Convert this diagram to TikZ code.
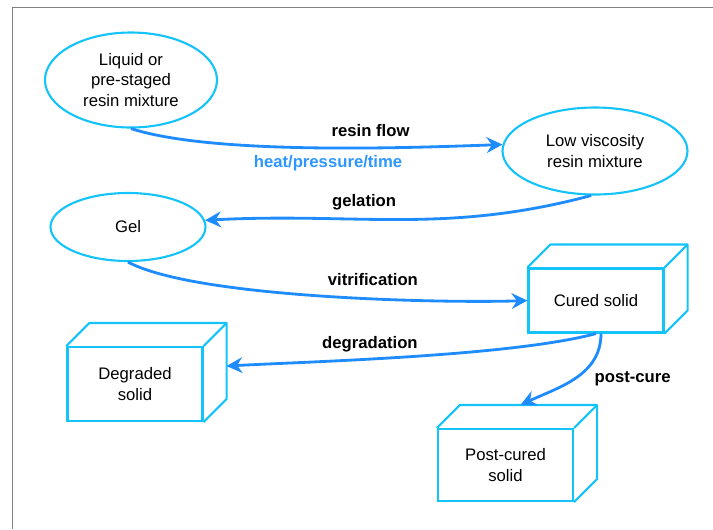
\documentclass[tikz,border=0pt]{standalone}
\usepackage{fontspec}
\setmainfont{Liberation Sans}
\usepackage{tikz}
\usetikzlibrary{arrows.meta, shapes.geometric}

\definecolor{shapeblue}{RGB}{20,195,250}
\definecolor{flowblue}{RGB}{30,140,255}
\definecolor{noteblue}{RGB}{45,150,255}

\tikzset{
    stage/.style={ellipse, draw=shapeblue, line width=1.2pt, align=center,
        font=\fontsize{9.5}{11.5}\selectfont, inner sep=0pt},
    solidbox/.style={rectangle, draw=shapeblue, line width=1.2pt, align=center,
        font=\fontsize{9.5}{11.5}\selectfont, minimum width=2.7cm},
    flow/.style={draw=flowblue, line width=1.6pt,
        -{Stealth[length=9pt, width=9pt, inset=3pt]}},
    lbl/.style={font=\fontsize{9.5}{11.5}\selectfont\bfseries}
}

% back faces of a box node, depth 0.46cm
\newcommand{\boxdepth}[1]{
    \draw[shapeblue, line width=1.2pt, line join=round]
        (#1.north west) -- ++(0.46,0.46) -| ([shift={(0.46,0.46)}]#1.south east) -- (#1.south east);
    \draw[shapeblue, line width=1.2pt] (#1.north east) -- ++(0.46,0.46);
}

\begin{document}
\begin{tikzpicture}[auto=center]
        \useasboundingbox (0,0) rectangle (14.26,-10.58);
        \draw[gray, line width=1pt] (0.25,-10.58) |- (14.26,-0.15);

        \node[stage, minimum width=3.44cm, minimum height=1.9cm] (liquid) at (2.62,-1.6) {Liquid or\\pre-staged\\resin mixture};
        \node[stage, minimum width=3.7cm, minimum height=1.74cm] (lowvisc) at (11.9,-3.02) {Low viscosity\\resin mixture};
        \node[stage, minimum width=3.1cm, minimum height=1.36cm] (gel) at (2.56,-4.54) {Gel};

        \node[solidbox, minimum height=1.28cm] (cured) at (11.92,-6.01) {Cured solid};
        \node[solidbox, minimum height=1.48cm] (degraded) at (2.7,-7.68) {Degraded\\solid};
        \node[solidbox, minimum height=1.44cm] (postcured) at (10.11,-9.3) {Post-cured\\solid};
        \boxdepth{cured}
        \boxdepth{degraded}
        \boxdepth{postcured}

        \coordinate (degraded-side) at ([shift={(0.46,0.36)}]degraded.east);
        \coordinate (postcured-top) at ([shift={(0.3,0.46)}]postcured.north);

        \draw[flow] (liquid.south) to[out=-18, in=182, looseness=0.6]
            node[lbl, pos=0.63, anchor=south, yshift=2pt]{resin flow}
            node[lbl, pos=0.53, anchor=north, text=noteblue]{heat/pressure/time} (lowvisc.176);
        \draw[flow] (lowvisc.-95) to[out=195, in=3] node[lbl, pos=0.6, anchor=south, yshift=1pt]{gelation} (gel.5);
        \draw[flow] (gel.south) to[out=-28, in=182, looseness=0.5] node[lbl, pos=0.6, anchor=south, yshift=3.5pt]{vitrification} (cured.west);
        \draw[flow] (cured.south) to[out=195, in=3, looseness=0.6] node[lbl, pos=0.6, anchor=south, yshift=0pt]{degradation} (degraded-side);
        \draw[flow] ([xshift=0.1cm]cured.south) to[out=-90, in=25] node[lbl, pos=0.5, anchor=west, xshift=7pt]{post-cure} (postcured-top);
    \end{tikzpicture}
\end{document}
